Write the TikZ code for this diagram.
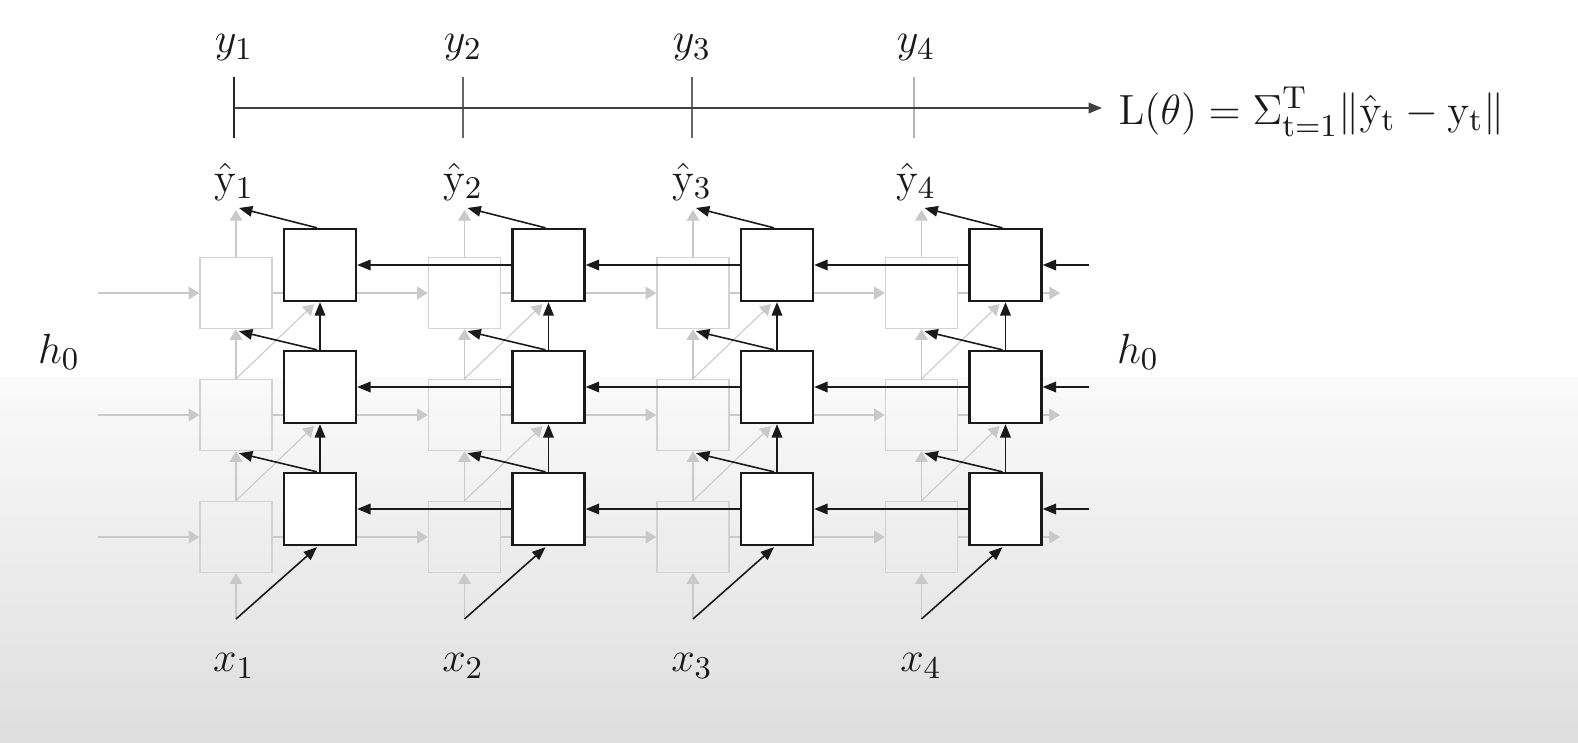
\documentclass[tikz,border=0pt]{standalone}
\usepackage{amsmath,amssymb}
\usepackage{tikz}
\usetikzlibrary{arrows.meta,calc}
\definecolor{ink}{HTML}{1A1A1A}
\definecolor{ghost}{HTML}{C9C9C9}
\definecolor{ghostbd}{HTML}{D2D2D2}
\definecolor{slidetop}{HTML}{FAFAFA}
\definecolor{slidebot}{HTML}{DEDEDE}
\tikzset{
  fwbox/.style={rectangle,draw=ghostbd,line width=0.4pt,
    minimum width=0.72cm,minimum height=0.71cm,inner sep=0pt},
  bwbox/.style={rectangle,draw=ink,line width=0.65pt,fill=white,
    minimum size=0.72cm,inner sep=0pt},
  fwarr/.style={-{Triangle[length=3pt,width=3.6pt]},line width=0.3pt,color=ghost},
  bwarr/.style={-{Triangle[length=3.8pt,width=3pt]},line width=0.45pt,color=ink},
  axarr/.style={-{Triangle[length=3.8pt,width=3pt]},line width=0.5pt,color=black!75},
  tickln/.style={line width=0.35pt},
  mathlbl/.style={font=\fontsize{13}{15}\selectfont,inner sep=0pt,text=ink},
  losslbl/.style={font=\fontsize{12.5}{15}\selectfont,inner sep=0pt,text=ink},
}

\begin{document}
\begin{tikzpicture}[x=0.01cm, y=-0.01cm]
  % slide background
  \fill[white] (0,0) rectangle (1578,377);
  \shade[top color=slidetop, bottom color=slidebot] (0,377) rectangle (1578,742);

  % forward (faded) cells
  \foreach \c in {1,...,4}{
    \foreach \r in {1,2,3}{
      \node[fwbox] (f\r\c) at ({236+228.5*(\c-1)},{293+122*(\r-1)}) {};
    }
    \coordinate (yo\c) at ({236+228.5*(\c-1)},210);
    \coordinate (xi\c) at ({236+228.5*(\c-1)},619);
  }
  \foreach \r in {1,2,3}{
    \coordinate (hl\r) at (98,{293+122*(\r-1)});
    \coordinate (hr\r) at (1060,{293+122*(\r-1)});
    \coordinate (bl\r) at (1089,{265+122*(\r-1)});
  }

  \foreach \r in {1,2,3}{
    \draw[fwarr] (hl\r) -- (f\r1);
    \foreach \c/\n in {1/2,2/3,3/4} \draw[fwarr] (f\r\c) -- (f\r\n);
    \draw[fwarr] (f\r4) -- (hr\r);
  }
  \foreach \c in {1,...,4}{
    \draw[fwarr] (xi\c) -- (f3\c);
    \draw[fwarr] (f3\c) -- (f2\c);
    \draw[fwarr] (f2\c) -- (f1\c);
    \draw[fwarr] (f1\c) -- (yo\c);
  }

  % backward cells
  \foreach \c in {1,...,4}{
    \foreach \r in {1,2,3}{
      \node[bwbox] (b\r\c) at ($(f\r\c)+(84,-28)$) {};
    }
  }
  \foreach \c in {1,...,4}{
    \draw[fwarr] (f3\c.north) -- ($(b2\c.south)+(-6,2)$);
    \draw[fwarr] (f2\c.north) -- ($(b1\c.south)+(-6,2)$);
  }

  \foreach \r in {1,2,3}{
    \draw[bwarr] (bl\r) -- (b\r4);
    \foreach \c/\n in {1/2,2/3,3/4} \draw[bwarr] (b\r\n) -- (b\r\c);
  }
  \foreach \c in {1,...,4}{
    \draw[bwarr] (xi\c) -- ($(b3\c.south)+(-3,1)$);
    \draw[bwarr] (b3\c) -- (b2\c);
    \draw[bwarr] (b2\c) -- (b1\c);
    \draw[bwarr] ($(b3\c.north)+(-3,0)$) -- ($(f2\c.south)+(3,2)$);
    \draw[bwarr] ($(b2\c.north)+(-3,0)$) -- ($(f1\c.south)+(3,2)$);
    \draw[bwarr] ($(b1\c.north)+(-3,0)$) -- ($(yo\c)+(3,-2)$);
  }

  % labels
  \foreach \c/\lx in {1/234,2/463,3/692,4/916}{
    \node[mathlbl] (y\c) at (\lx,48) {$y_{\c}$};
    \node[mathlbl] (yh\c) at (\lx,182) {$\hat{\mathrm{y}}_{\c}$};
  }
  \foreach \c/\lx in {1/234,2/463,3/692,4/921}{
    \node[mathlbl] (x\c) at (\lx,666) {$x_{\c}$};
  }
  \node[mathlbl] (h0l) at (59,352) {$h_0$};
  \node[mathlbl] (h0r) at (1138,352) {$h_0$};

  % loss axis
  \foreach \c/\tx/\tc in {1/234/black!85,2/463/black!60,3/692/black!60,4/914/black!30}{
    \coordinate (t\c) at (\tx,108);
    \draw[tickln,draw=\tc] (t\c) ++(0,-31) -- ++(0,61);
  }
  \coordinate (axend) at (1102,108);
  \draw[axarr] (t1) -- (axend);
  \node[losslbl,anchor=base west] (loss) at (1118,124)
    {$\mathrm{L}(\theta) = \Sigma_{\mathrm{t}=1}^{\mathrm{T}}\lVert\hat{\mathrm{y}}_{\mathrm{t}} - \mathrm{y}_{\mathrm{t}}\rVert$};
\end{tikzpicture}
\end{document}
